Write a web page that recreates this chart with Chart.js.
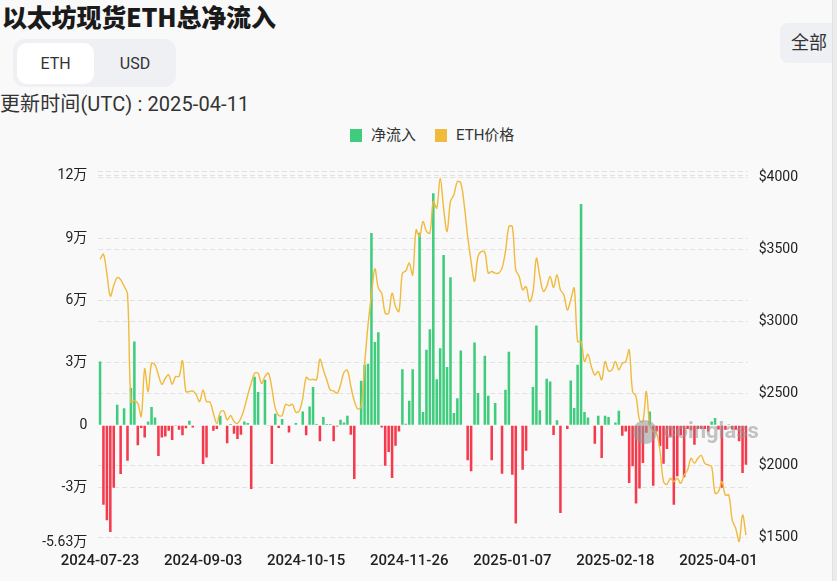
<!DOCTYPE html>
<html>
<head>
<meta charset="utf-8">
<script src="https://cdn.jsdelivr.net/npm/chart.js@4.4.1/dist/chart.umd.min.js"></script>
<style>
  body { margin: 0; width: 837px; height: 581px; overflow: hidden; position: relative;
         background: #f9f9f9; font-family: Roboto, 'Noto Sans CJK SC', sans-serif; color: #222; }
  .title { position: absolute; left: 2px; top: 0px; font: 900 25px 'Noto Sans CJK SC', sans-serif; line-height: 32px; color: #1a1a1a; letter-spacing: -0.2px; }
  .toggle { position: absolute; left: 13px; top: 39px; width: 163px; height: 48px; border-radius: 12px; background: #eef0f4; }
  .toggle span { position: absolute; top: 4px; height: 41px; line-height: 41px; text-align: center; font-size: 16px; color: #333; }
  .toggle .on { left: 4px; width: 77px; background: #fff; border-radius: 10px; }
  .toggle .off { left: 84px; width: 76px; }
  .updated { position: absolute; left: 0; top: 90px; font-size: 20px; line-height: 28px; color: #333; letter-spacing: 0.1px; }
  .all { position: absolute; left: 780px; top: 23px; width: 62px; height: 40px; line-height: 40px; border-radius: 8px;
         background: #eef0f4; font-size: 18px; color: #333; padding-left: 11px; box-sizing: border-box; }
  .scroll { position: absolute; left: 832px; top: 0; width: 5px; height: 581px; background: #ececec; border-left: 1px solid #e2e2e2; }
  .legend { position: absolute; top: 126px; left: 350px; font-size: 15px; line-height: 18px; color: #333; white-space: nowrap; }
  .legend i { display: inline-block; width: 12px; height: 13px; vertical-align: -2px; margin-right: 9px; }
  .legend span { margin-right: 19px; }
  #wrap { position: absolute; left: 0; top: 150px; width: 837px; height: 431px; }
</style>
</head>
<body>
<div class="title">以太坊现货ETH总净流入</div>
<div class="toggle"><span class="on">ETH</span><span class="off">USD</span></div>
<div class="updated">更新时间(UTC) : 2025-04-11</div>
<div class="all">全部</div>
<div class="scroll"></div>
<div class="legend"><i style="background:#3fcc7d"></i><span>净流入</span><i style="background:#f0ba3c"></i>ETH价格</div>
<div id="wrap"><canvas id="chart"></canvas></div>
<script>
  // 每日净流入 (ETH), 交易日 2024-07-23 ~ 2025-04-11
  const netFlow = [
    30700, -38100, -45600, -51200, -30000, 9900, -23400, 8200, -17000, 17900,
    40300, -9600, -1300, -5800, 1800, 8800, 3800, -14700, -5800, -5300,
    -2600, -7000, -300, -2100, -4800, -1400, 2200, -1000, 0, 0,
    -18600, -15400, 0, -2600, -1800, 4600, 0, -8600, 600, -4000,
    -6600, -4500, 1900, 1100, -30600, 23400, 16000, 0, 21900, -300,
    -18600, 5600, -1300, 3000, 0, -3400, 0, 1100, 0, 6700,
    -4800, 9100, 18400, 600, -7700, 4000, 600, 600, -7700, -500,
    2700, 1400, 4600, -4500, -25800, 0, 21400, 29100, 29600, 92500,
    40000, 44800, -1000, -19400, -12800, -25300, -9800, -2900, 27000, 800,
    11800, 27000, 0, 92600, 6400, 36300, 46200, 111500, 22200, 37100,
    81900, 28000, 71200, 5900, 13000, 36000, 300, -16800, -22100, 39800,
    15500, 0, 33400, 14200, -16800, 10700, 0, -23200, 17100, 35400,
    -23700, -47200, 0, -21300, -12200, 300, 18400, 48000, 7200, 0,
    22400, 21100, -4600, 2400, -42100, 0, -1800, 21600, 8300, 29100,
    106400, 6400, 3800, 0, -8800, 4600, -15700, 4600, 4000, 0,
    1400, 7000, -5000, -2900, -27700, -19700, -37600, -30400, -18100, -3500,
    6700, -29000, -2900, -10000, -18400, -11400, -5300, -38100, -24500, -4800,
    -25000, -1800, -2400, -9300, -1800, -1800, -1800, -2900, 1900, 3500,
    -2000, -30000, -2100, 500, -2000, -2100, -7700, -22900, -18900
  ];

  // ETH价格 (USD)
  const ethPrice = [
    3432, 3467, 3330, 3175, 3250, 3305, 3290, 3245, 3190, 2440,
    2450, 2430, 2340, 2670, 2513, 2709, 2698, 2628, 2563, 2605,
    2628, 2563, 2617, 2617, 2728, 2513, 2513, 2517, 2489, 2443,
    2524, 2443, 2440, 2360, 2292, 2369, 2378, 2316, 2346, 2304,
    2292, 2327, 2397, 2489, 2570, 2640, 2640, 2570, 2617, 2640,
    2536, 2397, 2346, 2346, 2424, 2415, 2424, 2369, 2378, 2466,
    2610, 2594, 2598, 2594, 2737, 2663, 2594, 2524, 2517, 2501,
    2559, 2647, 2660, 2548, 2448, 2392, 2408, 2698, 2976, 3184,
    3365, 3231, 3196, 3057, 3057, 3196, 3103, 3069, 3335, 3351,
    3405, 3323, 3636, 3590, 3694, 3625, 3613, 3833, 3787, 3995,
    3787, 3625, 3833, 3880, 3972, 3961, 3810, 3590, 3416, 3277,
    3451, 3486, 3481, 3335, 3347, 3335, 3335, 3370, 3486, 3659,
    3659, 3358, 3312, 3219, 3242, 3138, 3203, 3439, 3312, 3208,
    3242, 3312, 3235, 3323, 3219, 3184, 3080, 3150, 3231, 2860,
    2860, 2721, 2772, 2686, 2628, 2652, 2594, 2721, 2656, 2663,
    2721, 2663, 2709, 2721, 2802, 2513, 2478, 2316, 2304, 2513,
    2281, 2234, 2223, 2095, 1887, 1868, 1910, 1887, 1910, 1875,
    1933, 1968, 2049, 2014, 2049, 2068, 2014, 2003, 1991, 1806,
    1817, 1887, 1794, 1794, 1620, 1563, 1470, 1655, 1516
  ];

  const xTickLabels = ['2024-07-23', '2024-09-03', '2024-10-15', '2024-11-26', '2025-01-07', '2025-02-18', '2025-04-01'];
  const flowTicks = [-56300, -30000, 0, 30000, 60000, 90000, 120000, 121900];
  const priceTicks = [1500, 2000, 2500, 3000, 3500, 4000];

  // 交易日 (周一~周五)
  const dates = [];
  let d = new Date(Date.UTC(2024, 6, 23));
  while (dates.length < netFlow.length) {
    const wd = d.getUTCDay();
    if (wd !== 0 && wd !== 6) dates.push(d.toISOString().slice(0, 10));
    d = new Date(d.getTime() + 86400000);
  }

  const green = '#3fcc7d';
  const red = '#f43a4c';
  const gridColor = '#e2e2e2';
  const tickFont = { family: 'Roboto, "Noto Sans CJK SC"', size: 14 };

  const watermark = {
    id: 'watermark',
    afterDatasetsDraw(chart) {
      const ctx = chart.ctx;
      ctx.save();
      ctx.fillStyle = 'rgba(150,150,150,0.55)';
      ctx.beginPath();
      ctx.arc(645, 282, 12, 0, Math.PI * 2);
      ctx.fill();
      ctx.font = 'bold 22px Roboto';
      ctx.textBaseline = 'middle';
      ctx.fillText('coinglass', 664, 282);
      ctx.restore();
    }
  };

  new Chart(document.getElementById('chart').getContext('2d'), {
    data: {
      labels: dates,
      datasets: [
        {
          type: 'line',
          label: 'ETH价格',
          data: ethPrice,
          yAxisID: 'y1',
          borderColor: '#f0ba3c',
          backgroundColor: '#f0ba3c',
          borderWidth: 1.4,
          pointRadius: 0,
          tension: 0.35,
          order: 0
        },
        {
          type: 'bar',
          label: '净流入',
          data: netFlow,
          yAxisID: 'y',
          backgroundColor: netFlow.map(v => v >= 0 ? green : red),
          barPercentage: 0.74,
          categoryPercentage: 1,
          order: 1
        }
      ]
    },
    options: {
      responsive: true,
      maintainAspectRatio: false,
      animation: false,
      layout: { padding: { top: 21.7, left: 0, right: 0, bottom: 0 } },
      plugins: { legend: { display: false }, tooltip: { enabled: false } },
      scales: {
        x: {
          grid: { display: false, drawTicks: false },
          border: { display: false },
          afterFit: s => { s.height = 38.5; },
          ticks: {
            autoSkip: false,
            maxRotation: 0,
            padding: 10,
            color: '#222',
            font: { family: 'Roboto', size: 15, weight: 500 },
            callback: function (v, i) {
              const lab = dates[i];
              return xTickLabels.includes(lab) ? lab : '';
            }
          }
        },
        y: {
          position: 'left',
          min: -56300,
          max: 121900,
          afterFit: s => { s.width = 98.3; },
          afterBuildTicks: s => { s.ticks = flowTicks.map(v => ({ value: v })); },
          grid: {
            drawTicks: false,
            color: c => (c.tick && (c.tick.value === 0 || c.tick.value === -56300)) ? 'rgba(0,0,0,0)' : gridColor
          },
          border: { display: false, dash: [5, 3] },
          ticks: {
            padding: 11,
            color: '#222',
            font: tickFont,
            callback: v => {
              if (v === 121900) return '';
              if (v === 0) return '0';
              return (v / 10000) + '万';
            }
          }
        },
        y1: {
          position: 'right',
          min: 1464,
          max: 4040,
          afterFit: s => { s.width = 837 - 747.7; },
          afterBuildTicks: s => { s.ticks = priceTicks.map(v => ({ value: v })); },
          border: { display: false, dash: [5, 3] },
          grid: { drawTicks: false, color: gridColor },
          ticks: {
            padding: 11,
            color: '#222',
            font: tickFont,
            callback: v => '$' + v
          }
        }
      }
    },
    plugins: [watermark]
  });
</script>
</body>
</html>
